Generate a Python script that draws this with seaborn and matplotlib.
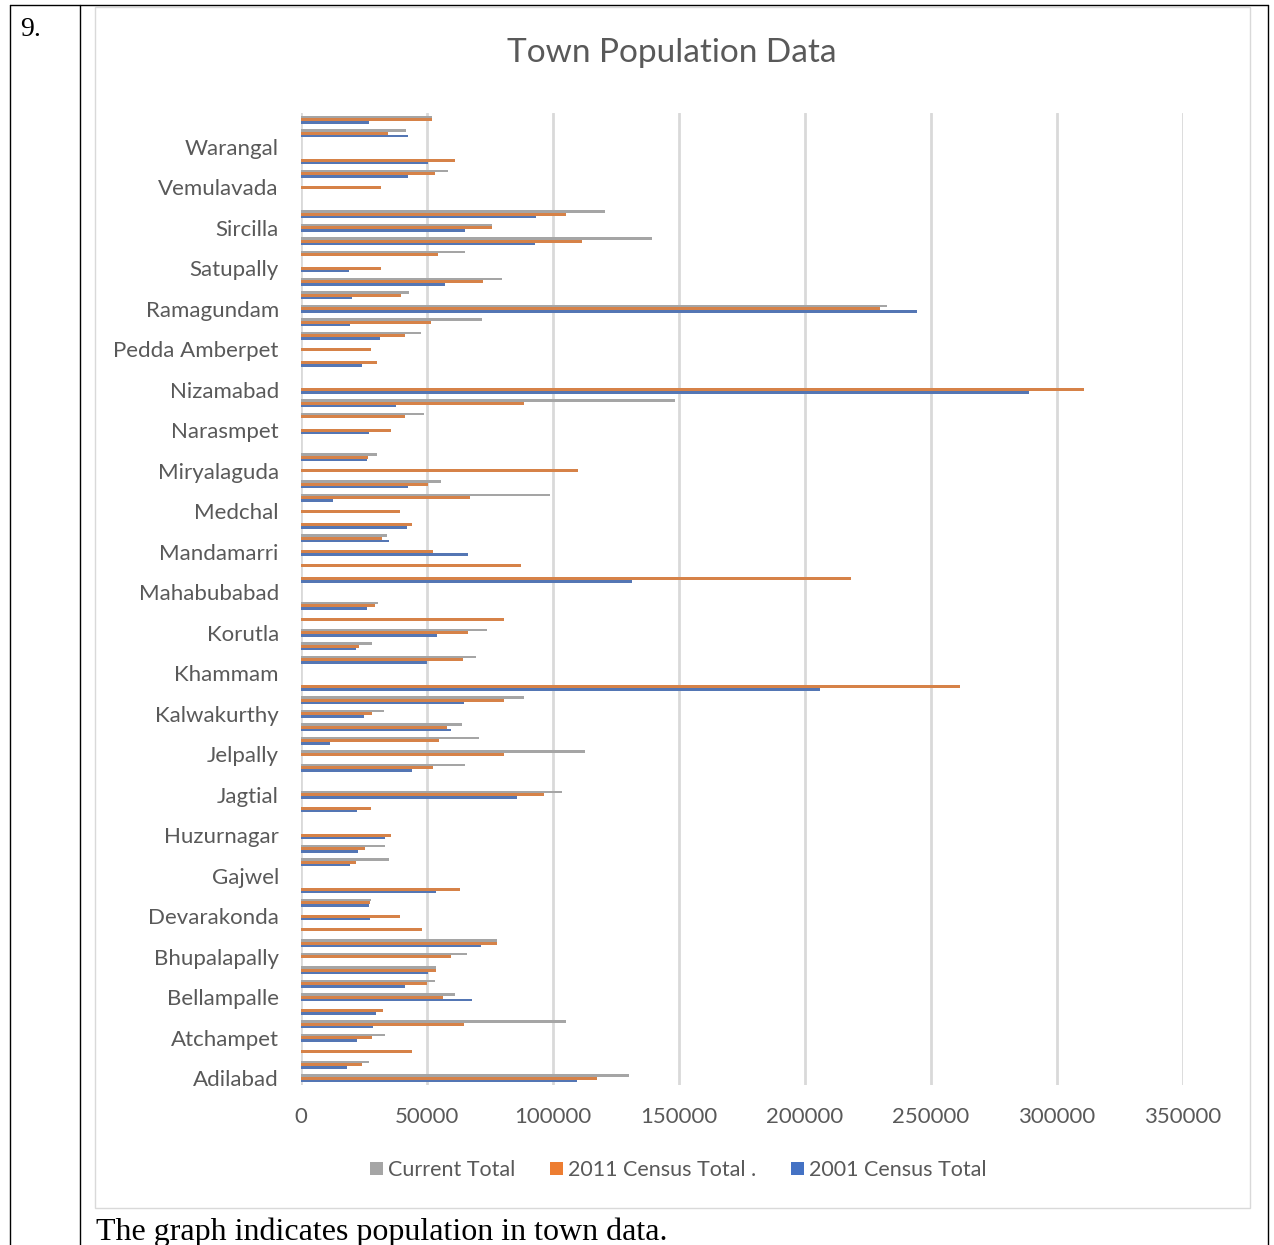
import numpy as np
import pandas as pd
import seaborn as sns
import matplotlib
matplotlib.use("Agg")
import matplotlib.pyplot as plt
from matplotlib.patches import Patch, Rectangle
from matplotlib.lines import Line2D

# Towns in alphabetical order (first one drawn at the bottom)
towns = [
    "Adilabad", "Alampur", "Armoor", "Atchampet", "Badepally", "Banswada",
    "Bellampalle", "Bhadrachalam", "Bhainsa", "Bhupalapally", "Bodhan", "Chennur",
    "Devarakonda", "Dubbaka", "Farooqnagar", "Gajwel", "Ghatkesar", "Husnabad",
    "Huzurnagar", "Ibrahimpatnam", "Jadcherla", "Jagtial", "Jammikunta", "Jangaon",
    "Jelpally", "Jogipet", "Kagaznagar", "Kalwakurthy", "Kamareddy", "Karimnagar",
    "Khammam", "Kodad", "Kollapur", "Korutla", "Kothagudem", "Luxettipet",
    "Mahabubabad", "Mahabubnagar", "Manchiryal", "Mandamarri", "Manuguru", "Medak",
    "Medchal", "Metpally", "Mirpet", "Miryalaguda", "Nakrekal", "Nalgonda",
    "Narasmpet", "Narayanpet", "Nirmal", "Nizamabad", "Palwancha", "Parkal",
    "Pedda Amberpet", "Peddapalli", "Quthbullapur", "Ramagundam", "Sadasivpet", "Sangareddy",
    "Satupally", "Shadnagar", "Siddipet", "Sircilla", "Suryapet", "Tandur",
    "Vemulavada", "Vikarabad", "Wanaparthy", "Warangal", "Yellandu", "Zaheerabad",
]

current_total = [
    130200, 26900, 0, 33200, 105200, 0,
    61100, 53300, 53700, 65900, 77700, 0,
    0, 27600, 0, 0, 35000, 33300,
    0, 0, 0, 103700, 0, 65000,
    112600, 70700, 63800, 33000, 88600, 0,
    0, 69500, 28100, 73700, 0, 30400,
    0, 0, 0, 0, 34300, 0,
    0, 98700, 55600, 0, 30000, 0,
    0, 48900, 148400, 0, 0, 0,
    0, 47500, 71700, 232500, 42800, 79700,
    0, 65000, 139100, 75700, 120800, 0,
    0, 58300, 0, 0, 41800, 52100,
]

census_2011 = [
    117600, 24400, 43900, 28200, 64600, 32500,
    56200, 50100, 53400, 59500, 77700, 48100,
    39300, 27300, 63100, 0, 22000, 25300,
    35700, 0, 27700, 96500, 0, 52200,
    80500, 54800, 57900, 28000, 80500, 261500,
    0, 64200, 22900, 66200, 80600, 29200,
    0, 218300, 87400, 52200, 32000, 44000,
    39100, 67100, 50500, 110100, 26700, 0,
    35900, 41400, 88300, 310700, 0, 30000,
    27700, 41100, 51600, 229800, 39500, 72400,
    31700, 54400, 111500, 75700, 105300, 0,
    31800, 53000, 61300, 0, 34700, 52100,
]

census_2001 = [
    109700, 18300, 0, 22300, 28400, 29700,
    67900, 41200, 50400, 0, 71500, 0,
    27300, 26900, 53600, 0, 19400, 22800,
    33400, 0, 22300, 85700, 0, 43900,
    0, 11500, 59700, 25100, 64600, 206000,
    0, 50100, 22000, 54000, 0, 26300,
    0, 131400, 0, 66200, 34900, 41900,
    0, 12700, 42300, 0, 26000, 0,
    26800, 0, 37500, 288900, 0, 24400,
    0, 31300, 19400, 244400, 20300, 57000,
    19000, 0, 92700, 65200, 93100, 0,
    0, 42300, 50300, 0, 42300, 26900,
]

series_names = ["Current Total", "2011 Census Total .", "2001 Census Total"]
series_colors = ["#A5A5A5", "#ED7D31", "#4472C4"]
x_ticks = [0, 50000, 100000, 150000, 200000, 250000, 300000, 350000]

df = pd.DataFrame({
    "town": towns * 3,
    "series": [series_names[0]] * len(towns) + [series_names[1]] * len(towns)
              + [series_names[2]] * len(towns),
    "value": current_total + census_2011 + census_2001,
})

W, H = 1274, 1245
fig = plt.figure(figsize=(W / 100, H / 100), dpi=100)
sns.set_style("white")
plt.rcParams["font.family"] = ["Lato", "DejaVu Sans"]

def fx(px):
    return px / W

def fy(py):
    return 1 - py / H

ax = fig.add_axes([fx(301), fy(1085), fx(1183) - fx(301), fy(113) - fy(1085)])

order = towns[::-1]
sns.barplot(data=df, y="town", x="value", hue="series", order=order,
            hue_order=series_names, palette=series_colors, orient="h",
            width=0.6, linewidth=0, errorbar=None, legend=False, ax=ax)

ax.set_xlim(0, 350000)
ax.set_ylim(len(towns) - 0.5, -0.5)
ax.set_xticks(x_ticks)
ax.set_xticklabels([str(v) for v in x_ticks], fontsize=16, color="#595959")
ax.set_yticks(range(len(order)))
ax.set_yticklabels([t if towns.index(t) % 3 == 0 else "" for t in order],
                   fontsize=16, color="#595959")
ax.tick_params(axis="x", length=0, pad=16)
ax.tick_params(axis="y", length=0, pad=16)
ax.set_xlabel("")
ax.set_ylabel("")
for s in ax.spines.values():
    s.set_visible(False)
ax.xaxis.grid(True, color="#D9D9D9", linewidth=2)
ax.yaxis.grid(False)
ax.set_axisbelow(True)

fig.text(fx(672), fy(53), "Town Population Data", ha="center", va="center",
         fontsize=24, color="#595959")

handles = [Patch(facecolor=c, edgecolor="none") for c in series_colors]
fig.legend(handles, series_names, loc="center", bbox_to_anchor=(fx(678), fy(1170)),
           ncol=3, frameon=False, fontsize=15.5, handlelength=0.6, handleheight=0.6,
           handletextpad=0.25, columnspacing=1.6, labelcolor="#595959")

# Chart frame
fig.add_artist(Rectangle((fx(95), fy(1208)), fx(1250) - fx(95), fy(7) - fy(1208),
                         transform=fig.transFigure, fill=False,
                         edgecolor="#D9D9D9", linewidth=1))

# Surrounding table rules
for x0 in (10, 80, 1268):
    fig.add_artist(Line2D([fx(x0), fx(x0)], [fy(5), 0], transform=fig.transFigure,
                          color="black", linewidth=1))
fig.add_artist(Line2D([fx(10), fx(1268)], [fy(5), fy(5)], transform=fig.transFigure,
                      color="black", linewidth=1))

fig.text(fx(20), fy(29), "9.", ha="left", va="center", fontsize=20,
         family="Liberation Serif", color="black")
fig.text(fx(96), fy(1232), "The graph indicates population in town data.",
         ha="left", va="center", fontsize=23, family="Liberation Serif", color="black")

fig.savefig("out.png", dpi=100)
